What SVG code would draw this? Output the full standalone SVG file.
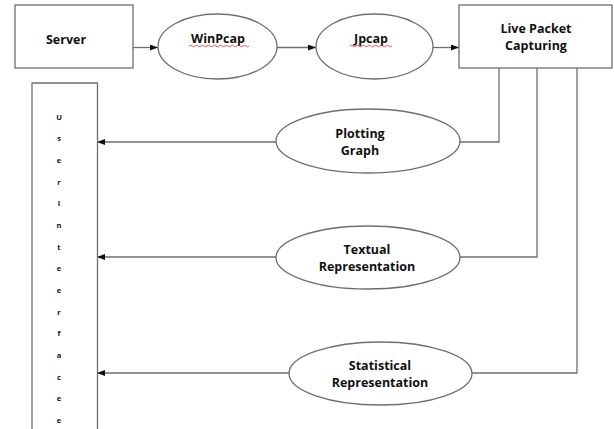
<svg xmlns="http://www.w3.org/2000/svg" width="614" height="429" viewBox="0 0 614 429">
<style>
.box{fill:#fff;stroke:#6e6e6e;stroke-width:1.3}
.con{fill:none;stroke:#6e6e6e;stroke-width:1.3}
.t{font-family:"Open Sans","Liberation Sans",sans-serif;font-weight:bold;font-size:12.5px;fill:#111;text-anchor:middle}
.u{font-family:"Open Sans","Liberation Sans",sans-serif;font-weight:bold;font-size:7.5px;fill:#111;text-anchor:middle}
.sq{fill:none;stroke:#d03030;stroke-width:0.8}
</style>
<defs>
<marker id="ah" markerWidth="8" markerHeight="6" refX="8" refY="3" orient="auto" markerUnits="userSpaceOnUse">
<path d="M0,0 L8,3 L0,6 Z" fill="#111"/>
</marker>
</defs>
<rect width="614" height="429" fill="#fff"/>
<g id="connectors">
<line class="con" x1="133" y1="47.5" x2="158" y2="47.5" marker-end="url(#ah)"/>
<line class="con" x1="277" y1="47.5" x2="316" y2="47.5" marker-end="url(#ah)"/>
<line class="con" x1="433" y1="47.5" x2="459" y2="47.5" marker-end="url(#ah)"/>
<polyline class="con" points="499,68 499,142 460,142"/>
<polyline class="con" points="537,68 537,257 460,257"/>
<polyline class="con" points="577,68 577,373 472,373"/>
<line class="con" x1="276" y1="142" x2="97" y2="142" marker-end="url(#ah)"/>
<line class="con" x1="276" y1="257" x2="97" y2="257" marker-end="url(#ah)"/>
<line class="con" x1="289" y1="373" x2="97" y2="373" marker-end="url(#ah)"/>
</g>
<g id="server">
<rect class="box" x="15" y="5" width="118" height="63"/>
<text class="t" x="66" y="44">Server</text>
</g>
<g id="winpcap">
<ellipse class="box" cx="217.5" cy="46.5" rx="59.5" ry="32.5"/>
<text class="t" x="218" y="43">WinPcap</text>
<path class="sq" d="M189,46 q1.5,-1.5 3,0 t3,0 t3,0 t3,0 t3,0 t3,0 t3,0 t3,0 t3,0 t3,0 t3,0 t3,0 t3,0 t3,0 t3,0 t3,0 t3,0 t3,0 t3,0 t3,0"/>
</g>
<g id="jpcap">
<ellipse class="box" cx="374.5" cy="46.5" rx="58.5" ry="32.5"/>
<text class="t" x="371" y="43">Jpcap</text>
<path class="sq" d="M350,46 q1.5,-1.5 3,0 t3,0 t3,0 t3,0 t3,0 t3,0 t3,0 t3,0 t3,0 t3,0 t3,0 t3,0 t3,0 t3,0"/>
</g>
<g id="live">
<rect class="box" x="459" y="5" width="153" height="63"/>
<text class="t" x="536" y="33">Live Packet</text>
<text class="t" x="536" y="50">Capturing</text>
</g>
<g id="plotting">
<ellipse class="box" cx="368" cy="141" rx="92" ry="32"/>
<text class="t" x="360" y="138">Plotting</text>
<text class="t" x="360" y="155">Graph</text>
</g>
<g id="textual">
<ellipse class="box" cx="368" cy="257.5" rx="92" ry="31.5"/>
<text class="t" x="367" y="254">Textual</text>
<text class="t" x="367" y="271">Representation</text>
</g>
<g id="statistical">
<ellipse class="box" cx="380.5" cy="373.5" rx="91.5" ry="31.5"/>
<text class="t" x="380" y="369.5">Statistical</text>
<text class="t" x="380" y="386.5">Representation</text>
</g>
<g id="userinterface">
<path class="con" d="M32,432 L32,83 L97.5,83 L97.5,432"/>
<text class="u" x="59" y="119.5">U</text>
<text class="u" x="59" y="141">s</text>
<text class="u" x="59" y="162.5">e</text>
<text class="u" x="59" y="184.5">r</text>
<text class="u" x="59" y="206">I</text>
<text class="u" x="59" y="227.5">n</text>
<text class="u" x="59" y="249.5">t</text>
<text class="u" x="59" y="271">e</text>
<text class="u" x="59" y="292.5">e</text>
<text class="u" x="59" y="314.5">r</text>
<text class="u" x="59" y="336">f</text>
<text class="u" x="59" y="358">a</text>
<text class="u" x="59" y="379.5">c</text>
<text class="u" x="59" y="401">e</text>
<text class="u" x="59" y="422.5">e</text>
</g>
</svg>
